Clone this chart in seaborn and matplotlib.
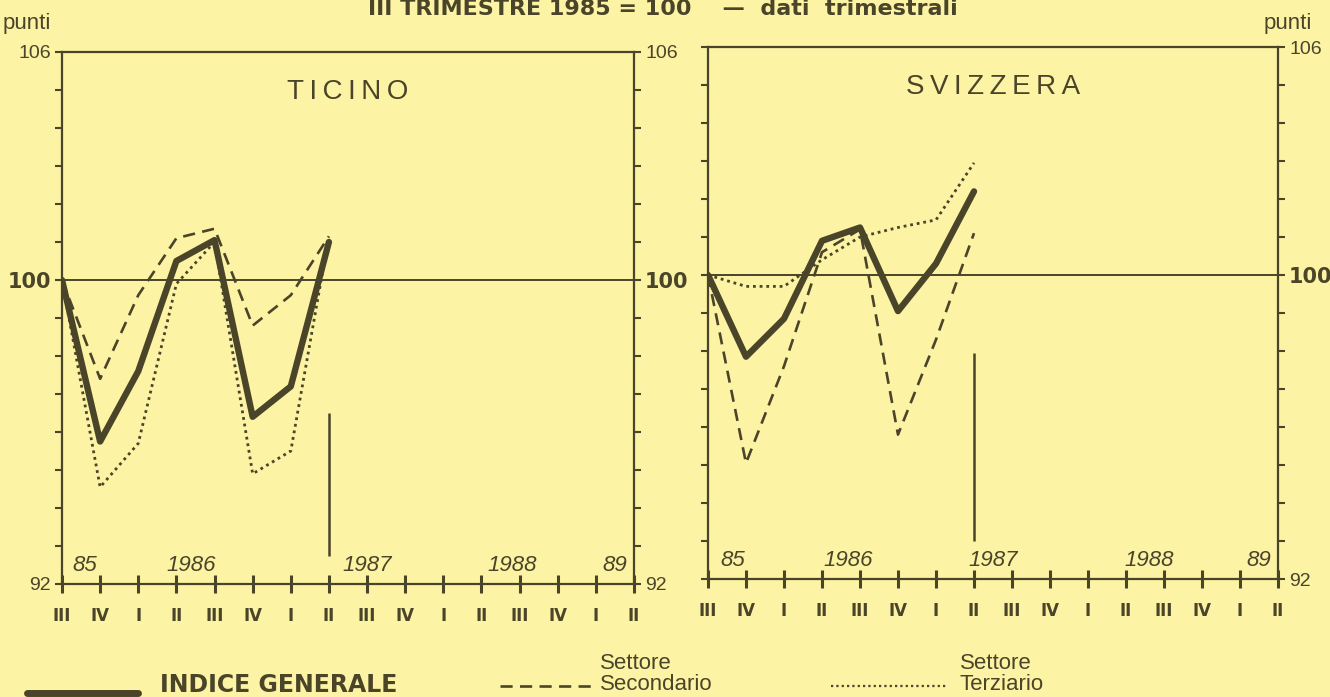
import matplotlib
matplotlib.use("Agg")
import pandas as pd
import matplotlib.pyplot as plt
import seaborn as sns
from matplotlib.lines import Line2D

# %%
# quarters from III 1985 to II 1989
quarters = ["III", "IV", "I", "II", "III", "IV", "I", "II",
            "III", "IV", "I", "II", "III", "IV", "I", "II"]
years = ["85", "1986", "1987", "1988", "89"]
year_pos_ticino = [0.6, 3.4, 8.0, 11.8, 14.5]
year_pos_svizzera = [0.65, 3.7, 7.5, 11.6, 14.5]

# index values, III 1985 = 100 (data up to II 1987)
ticino_gen = [100.0, 95.75, 97.6, 100.5, 101.05, 96.4, 97.2, 101.0]
ticino_sec = [100.0, 97.4, 99.6, 101.1, 101.35, 98.8, 99.6, 101.15]
ticino_ter = [100.0, 94.55, 95.7, 99.9, 101.0, 94.9, 95.5, 101.15]
svizzera_gen = [100.0, 97.85, 98.85, 100.9, 101.25, 99.05, 100.3, 102.2]
svizzera_sec = [100.0, 95.05, 97.6, 100.6, 101.2, 95.8, 98.3, 101.1]
svizzera_ter = [100.0, 99.7, 99.7, 100.4, 101.0, 101.25, 101.45, 102.95]

# vertical marker after last available quarter: [x, y from, y to]
mark_ticino = [7, 92.75, 96.5]
mark_svizzera = [7, 93.0, 97.95]

series_names = ["INDICE GENERALE", "Settore Secondario", "Settore Terziario"]


def long_frame(gen, sec, ter):
    parts = []
    for name, vals in zip(series_names, [gen, sec, ter]):
        parts.append(pd.DataFrame({"q": range(len(vals)), "val": vals, "serie": name}))
    return pd.concat(parts, ignore_index=True)


def spaced(s):
    # letter-spaced title with thin spaces
    return "\u2009".join(s)


ink = "#4a4429"
bg = "#fcf3a5"
W, H = 1330, 697

sns.set_theme(style="ticks", rc={"axes.facecolor": bg, "figure.facecolor": bg,
                                 "axes.edgecolor": ink, "text.color": ink,
                                 "xtick.color": ink, "ytick.color": ink})
plt.rcParams["font.family"] = ["Liberation Sans", "DejaVu Sans"]

dashes = {"INDICE GENERALE": "", "Settore Secondario": (4.6, 2.8), "Settore Terziario": (1.0, 1.4)}
sizes = {"INDICE GENERALE": 4.6, "Settore Secondario": 1.9, "Settore Terziario": 2.0}

fig = plt.figure(figsize=(W / 100, H / 100), dpi=100)
ax1 = fig.add_axes([62 / W, 1 - 584 / H, 572 / W, 532 / H])
ax2 = fig.add_axes([708 / W, 1 - 579 / H, 570 / W, 532 / H])

panels = [
    (ax1, "TICINO", long_frame(ticino_gen, ticino_sec, ticino_ter), mark_ticino, year_pos_ticino),
    (ax2, "SVIZZERA", long_frame(svizzera_gen, svizzera_sec, svizzera_ter), mark_svizzera, year_pos_svizzera),
]

for i, (ax, name, df, mark, ypos) in enumerate(panels):
    ax.axhline(100, color=ink, lw=1.4, zorder=1)
    sns.lineplot(data=df, x="q", y="val", style="serie", size="serie",
                 dashes=dashes, sizes=sizes, color=ink, legend=False, ax=ax, zorder=3)
    ax.vlines(mark[0], mark[1], mark[2], color=ink, lw=1.8)

    ax.set_xlim(0, 15)
    ax.set_ylim(92, 106)
    for s in ax.spines.values():
        s.set_visible(True)
        s.set_color(ink)
        s.set_linewidth(1.6)
    ax.set_xlabel(None)
    ax.set_ylabel(None)

    ax.set_xticks(range(len(quarters)))
    ax.set_xticklabels(quarters, fontweight="bold", fontsize=12, family="DejaVu Sans")
    ax.tick_params(axis="x", direction="inout", length=13, width=2.2, pad=10)

    yt = list(range(92, 107))
    ax.set_yticks(yt)
    ax.set_yticklabels([str(v) if v in (92, 100, 106) else "" for v in yt], fontsize=14)
    ax.tick_params(axis="y", direction="out", length=5, width=1.5,
                   left=True, right=True,
                   labelleft=(i == 0), labelright=True, pad=3)
    for t in ax.yaxis.get_major_ticks():
        if t.get_loc() == 100:
            for lab in (t.label1, t.label2):
                lab.set_fontweight("bold")
                lab.set_family("DejaVu Sans")
                lab.set_fontsize(15)

    for pos, yr in zip(ypos, years):
        ax.text(pos, 92.2, yr, style="italic", ha="center", va="bottom", fontsize=16, color=ink)

    ax.text(7.5, 104.95, spaced(name), ha="center", va="center", fontsize=20, color=ink)

fig.text(663 / W, 1 - 9 / H, "III TRIMESTRE 1985 = 100    —  dati  trimestrali",
         ha="center", va="center", fontsize=16, fontweight="bold", family="DejaVu Sans")
fig.text(3 / W, 1 - 24 / H, "punti", ha="left", va="center", fontsize=16)
fig.text(1312 / W, 1 - 24 / H, "punti", ha="right", va="center", fontsize=16)

# legend
fig.add_artist(Line2D([27 / W, 138 / W], [1 - 693 / H] * 2, color=ink, lw=5))
fig.text(160 / W, 1 - 685 / H, "INDICE GENERALE", ha="left", va="center",
         fontsize=17, fontweight="bold", family="DejaVu Sans")
fig.add_artist(Line2D([500 / W, 594 / W], [1 - 686 / H] * 2, color=ink, lw=1.9,
                      dashes=(4.6, 2.8)))
fig.text(600 / W, 1 - 674 / H, "Settore\nSecondario", ha="left", va="center",
         fontsize=16, linespacing=1.0)
fig.add_artist(Line2D([831 / W, 947 / W], [1 - 686 / H] * 2, color=ink, lw=1.6,
                      dashes=(1.0, 1.4)))
fig.text(960 / W, 1 - 674 / H, "Settore\nTerziario", ha="left", va="center",
         fontsize=16, linespacing=1.0)

fig.savefig("out.png", dpi=100, facecolor=bg)
